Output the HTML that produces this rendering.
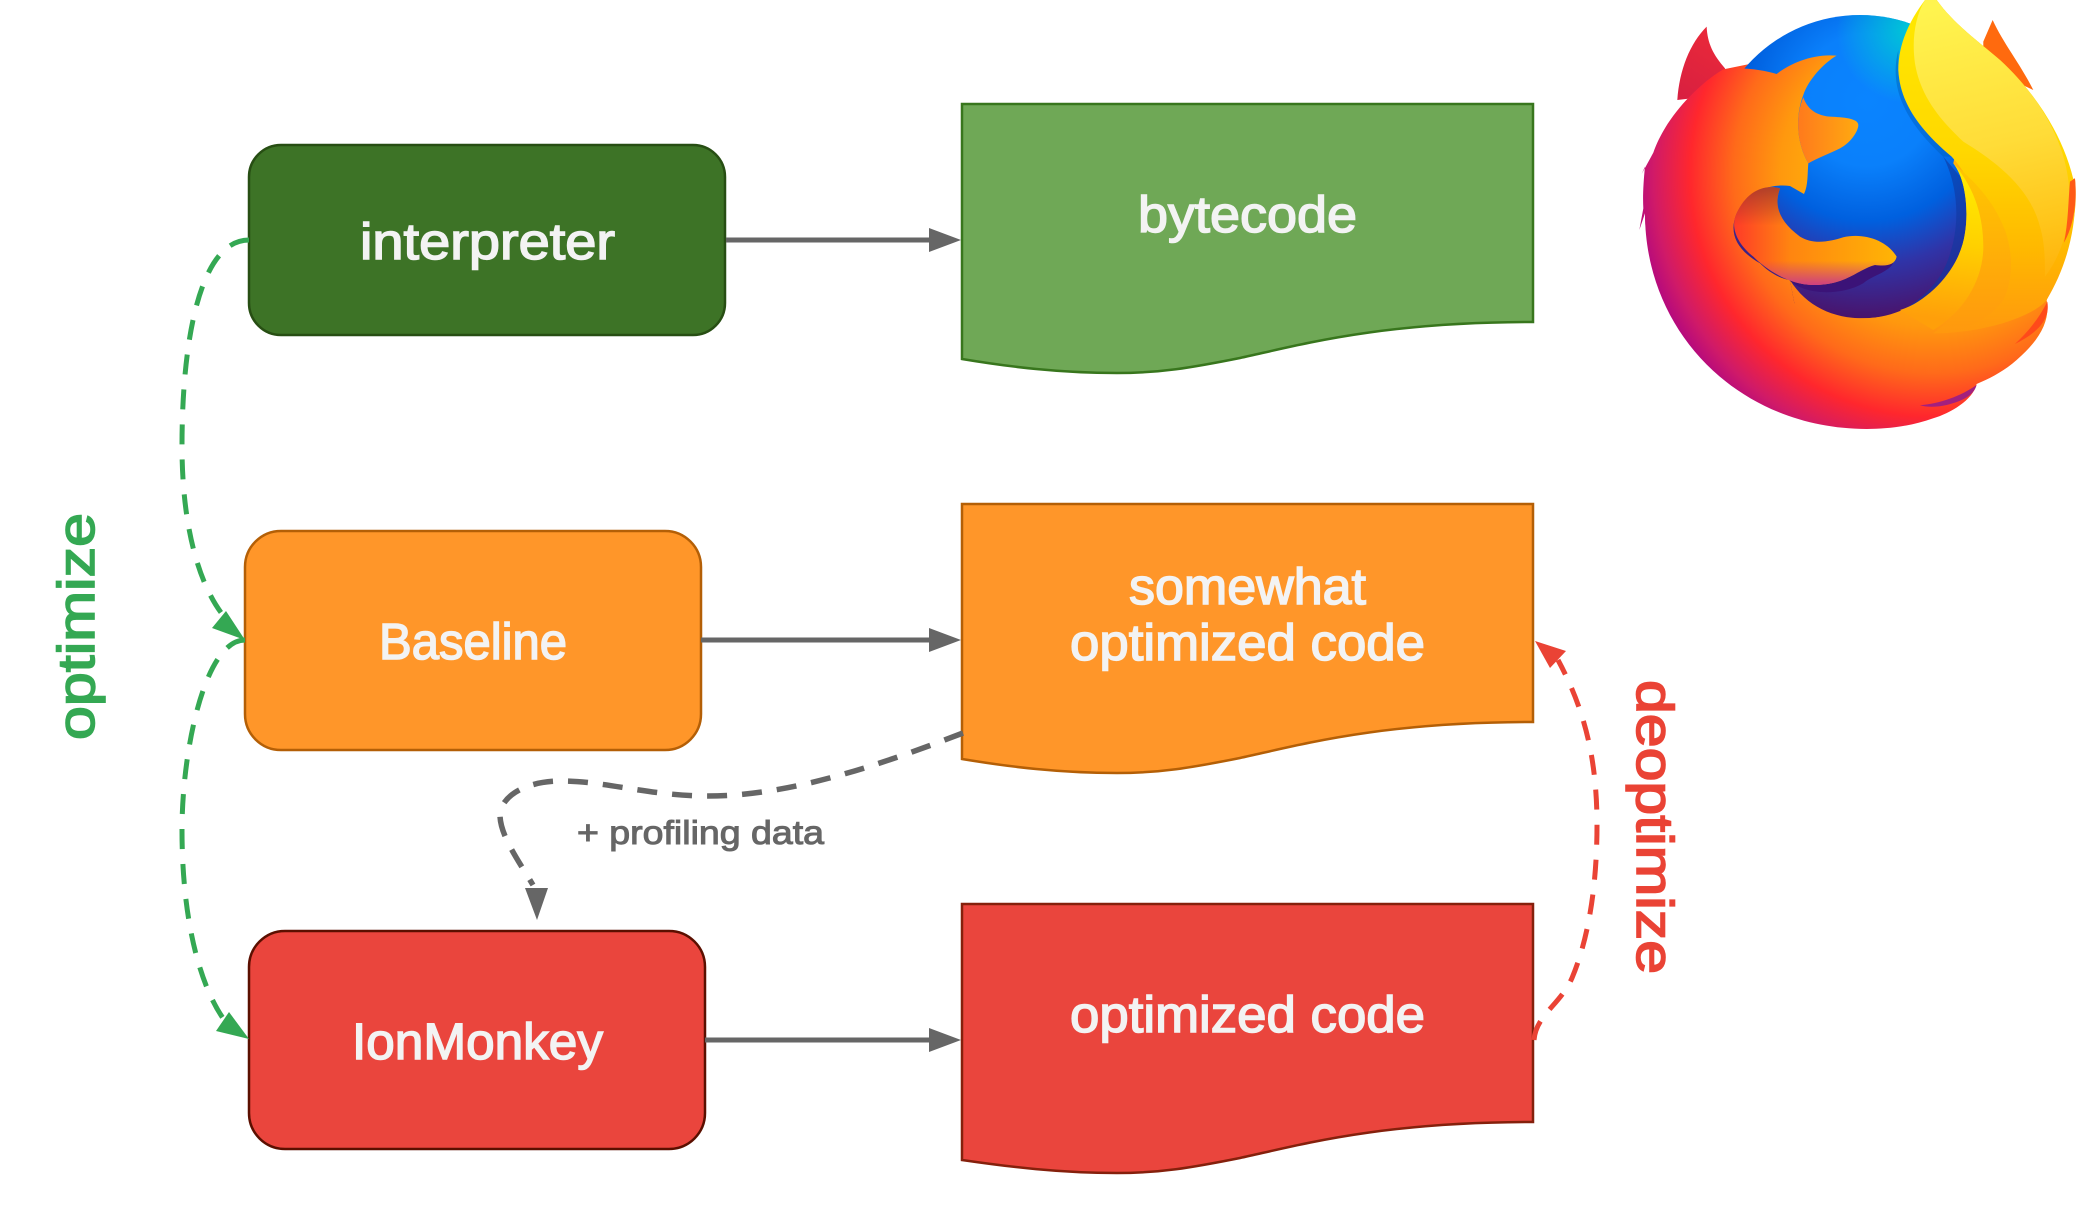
<!DOCTYPE html>
<html><head><meta charset="utf-8"><style>
html,body{margin:0;padding:0;background:#fff}
svg{display:block}
text{font-family:"Liberation Sans",sans-serif;}
.w{fill:#f3f3f3;stroke:#f3f3f3;stroke-width:1.5px;font-size:51px}
</style></head><body>
<svg width="2092" height="1210" viewBox="0 0 2092 1210" xmlns="http://www.w3.org/2000/svg">
<defs>
<radialGradient id="body" gradientUnits="userSpaceOnUse" cx="1000" cy="520" r="1000">
<stop offset="0.3" stop-color="#ffb20a"/><stop offset="0.46" stop-color="#ff980e"/><stop offset="0.6" stop-color="#ff6a1a"/><stop offset="0.73" stop-color="#ff272d"/><stop offset="0.84" stop-color="#d01a68"/><stop offset="0.93" stop-color="#a5008a"/>
</radialGradient>
<radialGradient id="globe" gradientUnits="userSpaceOnUse" cx="800" cy="300" r="660">
<stop offset="0" stop-color="#0a84ff"/><stop offset="0.3" stop-color="#0a80fb"/><stop offset="0.55" stop-color="#0060df"/><stop offset="0.75" stop-color="#2f34a8"/><stop offset="1" stop-color="#4a1269"/>
</radialGradient>
<radialGradient id="cy" gradientUnits="userSpaceOnUse" cx="930" cy="90" r="220">
<stop offset="0" stop-color="#00c8d7"/><stop offset="1" stop-color="#00c8d7" stop-opacity="0"/>
</radialGradient>
<linearGradient id="snout" gradientUnits="userSpaceOnUse" x1="595" y1="400" x2="775" y2="400">
<stop offset="0" stop-color="#ff7a1c"/><stop offset="1" stop-color="#ffaa10"/>
</linearGradient>
<linearGradient id="tailH" gradientUnits="userSpaceOnUse" x1="400" y1="0" x2="890" y2="0">
<stop offset="0" stop-color="#ff3a28"/><stop offset="0.35" stop-color="#ff8510"/><stop offset="1" stop-color="#ffb505"/>
</linearGradient>
<linearGradient id="tailV" gradientUnits="userSpaceOnUse" x1="640" y1="555" x2="640" y2="858">
<stop offset="0" stop-color="#903030" stop-opacity=".75"/><stop offset="0.4" stop-color="#903030" stop-opacity="0"/><stop offset="0.75" stop-color="#c8388c" stop-opacity="0"/><stop offset="1" stop-color="#c8388c" stop-opacity=".95"/>
</linearGradient>
<linearGradient id="fold" gradientUnits="userSpaceOnUse" x1="1100" y1="0" x2="1100" y2="1000">
<stop offset="0" stop-color="#ffe900"/><stop offset="0.45" stop-color="#ffd800"/><stop offset="0.75" stop-color="#ffb800"/><stop offset="1" stop-color="#ff980e"/>
</linearGradient>
<linearGradient id="light" gradientUnits="userSpaceOnUse" x1="1100" y1="0" x2="1300" y2="860">
<stop offset="0" stop-color="#fff44f"/><stop offset="0.5" stop-color="#ffdc38"/><stop offset="0.8" stop-color="#ffc51a"/><stop offset="1" stop-color="#ffb00a"/>
</linearGradient>
<linearGradient id="strip" gradientUnits="userSpaceOnUse" x1="1100" y1="550" x2="1050" y2="960">
<stop offset="0" stop-color="#ffe900"/><stop offset="0.45" stop-color="#ffd000"/><stop offset="1" stop-color="#ff9f0a"/>
</linearGradient>
<linearGradient id="band" gradientUnits="userSpaceOnUse" x1="1150" y1="500" x2="1150" y2="1000">
<stop offset="0" stop-color="#ffc800"/><stop offset="1" stop-color="#ff980e"/>
</linearGradient>
<linearGradient id="ear" gradientUnits="userSpaceOnUse" x1="240" y1="280" x2="340" y2="120">
<stop offset="0" stop-color="#d92040"/><stop offset="1" stop-color="#e8283a"/>
</linearGradient>
</defs>

<!-- logo -->
<g transform="translate(1600,0) scale(.3333)">
<path d="M232,300 C238,210 270,130 320,80 C322,130 340,165 375,205 L400,280 Z" fill="url(#ear)"/>
<path d="M1150,125 L1178,60 C1210,130 1260,190 1300,270 L1150,200 Z" fill="#ff6a0e"/>
<path d="M135,640 L118,690 L130,625 C128,590 130,550 135,500 L125,522 L160,458 C190,370 270,270 370,208 L900,100 L1010,0 C1060,70 1130,120 1200,180 C1320,300 1405,450 1410,540 L1425,535 C1432,600 1425,680 1395,740 C1380,810 1360,860 1340,900 C1352,960 1320,1020 1250,1080 C1210,1115 1170,1135 1130,1152 C1120,1200 1050,1240 1000,1255 C930,1280 860,1287 800,1287 C420,1287 135,1000 135,640 Z" fill="url(#body)"/>
<circle cx="780" cy="500" r="455" fill="url(#globe)"/>
<circle cx="780" cy="500" r="455" fill="url(#cy)"/>
<path d="M895,150 C870,250 900,350 1030,470 L1060,470 C960,390 900,310 895,210 Z" fill="#0060c0" opacity=".5"/>
<path d="M1030,470 C1075,560 1085,680 1040,790 C1010,860 960,900 900,935 L1100,900 L1140,600 Z" fill="#1038a0" opacity=".6"/>
<!-- right/bottom mass -->
<path d="M1060,490 C1100,540 1105,640 1095,700 C1080,820 950,955 790,955 C700,955 620,920 570,840 L600,1000 L900,1150 L1280,1000 L1340,900 L1390,700 L1390,500 L1100,300 Z" fill="url(#body)"/>
<!-- fox upper body -->
<path d="M135,640 C140,470 230,290 370,208 C430,200 490,210 530,222 C570,190 640,160 710,167 C670,190 625,240 610,285 C585,350 590,430 625,490 C622,520 625,555 612,582 L570,558 C500,550 440,580 410,640 C385,700 410,750 480,790 C520,830 560,840 570,840 L600,1000 L300,1000 C200,900 135,780 135,640 Z" fill="url(#body)"/>
<!-- snout -->
<path d="M610,292 C620,320 640,345 690,350 C730,352 775,355 775,375 C775,395 750,430 720,445 C690,460 650,475 625,490 C590,430 585,350 610,292 Z" fill="url(#snout)"/>
<!-- tail shadow -->
<path d="M565,838 C610,885 720,890 790,850 C820,825 860,820 880,790 L700,790 Z" fill="#3b1378"/>
<!-- tail -->
<path id="t" d="M540,565 C520,620 540,665 600,710 C640,735 690,725 730,712 C790,698 860,720 890,770 C885,795 860,800 825,795 C770,810 740,855 640,855 C570,855 500,810 460,770 C410,730 390,680 410,640 C440,575 490,552 540,565 Z" fill="url(#tailH)"/>
<path d="M540,565 C520,620 540,665 600,710 C640,735 690,725 730,712 C790,698 860,720 890,770 C885,795 860,800 825,795 C770,810 740,855 640,855 C570,855 500,810 460,770 C410,730 390,680 410,640 C440,575 490,552 540,565 Z" fill="url(#tailV)"/>
<!-- wing folds -->
<path d="M975,0 C930,60 895,130 895,210 C900,310 960,390 1055,470 C1120,540 1150,640 1150,740 C1150,830 1100,930 1000,1000 C1150,1000 1300,950 1340,900 C1400,800 1432,680 1425,560 C1400,430 1320,290 1200,180 C1130,120 1060,70 1010,0 Z" fill="url(#fold)"/>
<path d="M1065,495 C1130,580 1150,660 1150,740 C1150,830 1100,930 1000,1000 C1080,1000 1170,960 1210,900 C1240,840 1240,760 1215,690 C1180,600 1120,540 1065,495 Z" fill="url(#band)"/>
<path d="M1060,490 C1130,570 1150,660 1150,740 C1150,830 1100,930 1000,990 L900,930 C1000,900 1080,800 1095,700 C1105,640 1100,540 1060,490 Z" fill="url(#strip)"/>
<path d="M975,0 C945,50 935,120 945,190 C960,280 1010,350 1090,425 C1180,480 1290,560 1320,680 C1335,730 1335,780 1335,830 C1390,760 1420,650 1405,540 C1390,420 1320,290 1200,180 C1130,120 1060,70 1010,0 Z" fill="url(#light)"/>
<path d="M1410,545 L1425,535 C1432,610 1420,680 1392,728 C1405,670 1405,600 1410,545 Z" fill="#ff5a16"/>
<path d="M1342,905 C1352,960 1310,1000 1245,1032 C1290,990 1320,950 1342,905 Z" fill="#ff4a1a"/>
<path d="M960,1216 C1020,1210 1080,1190 1130,1155 C1120,1190 1080,1205 1040,1215 C1010,1222 980,1222 960,1216 Z" fill="#a3207e"/>
</g>

<!-- boxes -->
<rect x="249" y="145" width="476" height="190" rx="32" fill="#3d7326" stroke="#274e13" stroke-width="2.5"/>
<rect x="245" y="531" width="456" height="219" rx="36" fill="#ff9629" stroke="#b45f06" stroke-width="2.5"/>
<rect x="249" y="931" width="456" height="218" rx="36" fill="#ea453d" stroke="#5b0f00" stroke-width="2.5"/>

<!-- docs -->
<path d="M962,104 H1533 V322 C1380,322 1300,345 1240,358 C1190,368 1160,373 1117,373 C1060,373 1010,367 962,359 Z" fill="#6fa856" stroke="#38761d" stroke-width="2.5"/>
<path d="M962,504 H1533 V722 C1380,722 1300,745 1240,758 C1190,768 1160,773 1117,773 C1060,773 1010,767 962,759 Z" fill="#ff9629" stroke="#b45f06" stroke-width="2.5"/>
<path d="M962,904 H1533 V1122 C1380,1122 1300,1145 1240,1158 C1190,1168 1160,1173 1117,1173 C1060,1173 1010,1167 962,1160 Z" fill="#ea453d" stroke="#85200c" stroke-width="2.5"/>

<!-- straight arrows -->
<g stroke="#666" stroke-width="5" fill="none">
<path d="M726,240 H935"/><path d="M701,640 H935"/><path d="M705,1040 H935"/>
</g>
<g fill="#666">
<path d="M929,228 L961,240 L929,252 Z"/><path d="M929,628 L961,640 L929,652 Z"/><path d="M929,1028 L961,1040 L929,1052 Z"/>
</g>

<!-- dashed connectors -->
<g fill="none" stroke-width="5" stroke-dasharray="20 15">
<path stroke="#34a853" d="M249,240 C200,240 182,340 182,446 C182,540 205,600 232,625"/>
<path stroke="#34a853" d="M245,640 C205,640 182,750 182,830 C182,920 200,990 228,1025"/>
<path stroke="#666" stroke-width="5.5" d="M963,733 C880,765 790,796 708,796 C650,796 605,781 562,781 C520,781 500,800 500,815 C500,835 518,860 533,885"/>
<path stroke="#ea4335" d="M1534,1040 C1536,1015 1560,1005 1572,978 C1590,935 1597,880 1597,825 C1597,760 1585,710 1558,660"/>
</g>
<path d="M245,640 L212,628 L226,611 Z" fill="#34a853"/>
<path d="M249,1039 L216,1031 L229,1012 Z" fill="#34a853"/>
<path d="M537,920 L525,888 L548,888 Z" fill="#666"/>
<path d="M1535,641 L1566,651 L1550,668 Z" fill="#ea4335"/>

<!-- labels -->
<text class="w" x="360" y="259" textLength="255" lengthAdjust="spacingAndGlyphs">interpreter</text>
<text class="w" x="379" y="659" textLength="188" lengthAdjust="spacingAndGlyphs">Baseline</text>
<text class="w" x="352" y="1059" textLength="251" lengthAdjust="spacingAndGlyphs">IonMonkey</text>
<text class="w" x="1138" y="232" textLength="219" lengthAdjust="spacingAndGlyphs">bytecode</text>
<text class="w" x="1129" y="604" textLength="237" lengthAdjust="spacingAndGlyphs">somewhat</text>
<text class="w" x="1070" y="660" textLength="355" lengthAdjust="spacingAndGlyphs">optimized code</text>
<text class="w" x="1070" y="1032" textLength="355" lengthAdjust="spacingAndGlyphs">optimized code</text>
<text x="577" y="844" font-size="33" fill="#666" stroke="#666" stroke-width="1" textLength="247" lengthAdjust="spacingAndGlyphs">+ profiling data</text>
<text transform="translate(94,740) rotate(-90)" font-size="52" fill="#34a853" stroke="#34a853" stroke-width="1.6" textLength="227" lengthAdjust="spacingAndGlyphs">optimize</text>
<text transform="translate(1637,680) rotate(90)" font-size="52" fill="#ea4335" stroke="#ea4335" stroke-width="1.6" textLength="294" lengthAdjust="spacingAndGlyphs">deoptimize</text>
</svg>
</body></html>
